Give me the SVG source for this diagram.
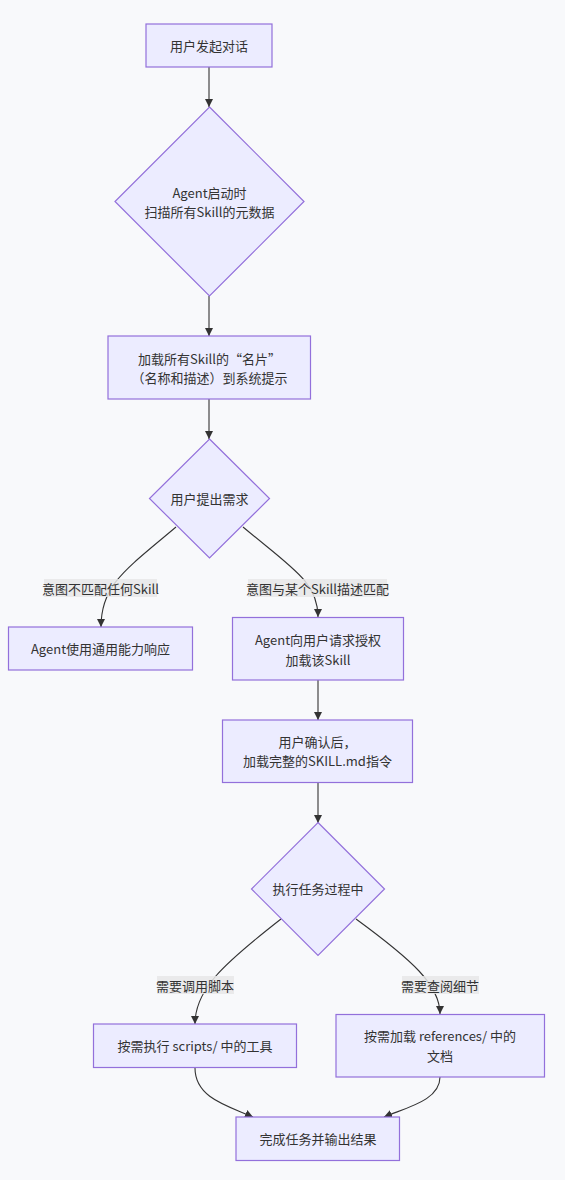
<svg xmlns="http://www.w3.org/2000/svg" width="565" height="1180" viewBox="0 0 565 1180">
<style>
.bg{fill:#f8f9fb}
.n{fill:#ececff;stroke:#9370db;stroke-width:1.2}
.t{font-family:"Noto Sans CJK SC","Noto Sans",sans-serif;font-size:13px;fill:#333;text-anchor:middle;dominant-baseline:central}
.e{fill:none;stroke:#333;stroke-width:1.1}
.lb{fill:#e8e8e8;fill-opacity:0.85}
</style>
<defs>
<marker id="ah" viewBox="0 0 10 10" refX="10" refY="5" markerWidth="8" markerHeight="8" markerUnits="userSpaceOnUse" orient="auto">
<path d="M0,0 L10,5 L0,10 z" fill="#333"/>
</marker>
</defs>
<rect class="bg" x="0" y="0" width="565" height="1180"/>
<g id="edges">
<path class="e" d="M209,67 L209,107" marker-end="url(#ah)"/>
<path class="e" d="M209,296 L209,336" marker-end="url(#ah)"/>
<path class="e" d="M209,399 L209,439" marker-end="url(#ah)"/>
<path class="e" d="M176,527 C125,570 101,585 101,627" marker-end="url(#ah)"/>
<path class="e" d="M243,527 C292,568 318,582 318,617" marker-end="url(#ah)"/>
<path class="e" d="M318,680 L318,720" marker-end="url(#ah)"/>
<path class="e" d="M318,782 L318,823" marker-end="url(#ah)"/>
<path class="e" d="M281,919 C222,965 195,990 195,1024" marker-end="url(#ah)"/>
<path class="e" d="M356,919 C412,960 440,985 440,1014" marker-end="url(#ah)"/>
<path class="e" d="M195,1068 C195,1098 228,1106 253,1117" marker-end="url(#ah)"/>
<path class="e" d="M440,1077 C440,1100 408,1107 384,1117" marker-end="url(#ah)"/>
<g id="edge-labels">
<rect class="lb" x="44" y="579" width="113" height="18"/>
<text class="t" x="100.5" y="588">意图不匹配任何Skill</text>
<rect class="lb" x="248" y="579" width="139" height="18"/>
<text class="t" x="317.5" y="588">意图与某个Skill描述匹配</text>
<rect class="lb" x="157" y="976" width="77" height="18"/>
<text class="t" x="195" y="985">需要调用脚本</text>
<rect class="lb" x="402" y="976" width="77" height="18"/>
<text class="t" x="440" y="985">需要查阅细节</text>
</g>
</g>
<g id="nA">
<rect class="n" x="146" y="24" width="126" height="43"/>
<text class="t" x="209" y="45.5">用户发起对话</text>
</g>
<g id="nB">
<polygon class="n" points="209.5,107 304,201.5 209.5,296 115,201.5"/>
<text class="t" x="209.5" y="192">Agent启动时</text>
<text class="t" x="209.5" y="211">扫描所有Skill的元数据</text>
</g>
<g id="nC">
<rect class="n" x="108" y="336" width="202.5" height="63"/>
<text class="t" x="209.5" y="358">加载所有Skill的“名片”</text>
<text class="t" x="209.5" y="377">（名称和描述）到系统提示</text>
</g>
<g id="nD">
<polygon class="n" points="209.5,439 269.5,498.5 209.5,558 149.5,498.5"/>
<text class="t" x="209.5" y="498.5">用户提出需求</text>
</g>
<g id="nE">
<rect class="n" x="8.5" y="627" width="184" height="43"/>
<text class="t" x="100.5" y="648.5">Agent使用通用能力响应</text>
</g>
<g id="nF">
<rect class="n" x="232.5" y="617.5" width="171" height="62.5"/>
<text class="t" x="318" y="639">Agent向用户请求授权</text>
<text class="t" x="318" y="659">加载该Skill</text>
</g>
<g id="nG">
<rect class="n" x="222.5" y="720" width="190" height="62.5"/>
<text class="t" x="317.5" y="741">用户确认后，</text>
<text class="t" x="317.5" y="760">加载完整的SKILL.md指令</text>
</g>
<g id="nH">
<polygon class="n" points="318,822.5 384.5,889 318,955.5 251.5,889"/>
<text class="t" x="318" y="888.5">执行任务过程中</text>
</g>
<g id="nI">
<rect class="n" x="93.5" y="1024" width="203" height="43.5"/>
<text class="t" x="195" y="1045.5">按需执行 scripts/ 中的工具</text>
</g>
<g id="nJ">
<rect class="n" x="336" y="1014.5" width="208.5" height="62.5"/>
<text class="t" x="440" y="1035">按需加载 references/ 中的</text>
<text class="t" x="440" y="1055">文档</text>
</g>
<g id="nK">
<rect class="n" x="236" y="1117" width="163.5" height="43.5"/>
<text class="t" x="318" y="1138.5">完成任务并输出结果</text>
</g>
</svg>
